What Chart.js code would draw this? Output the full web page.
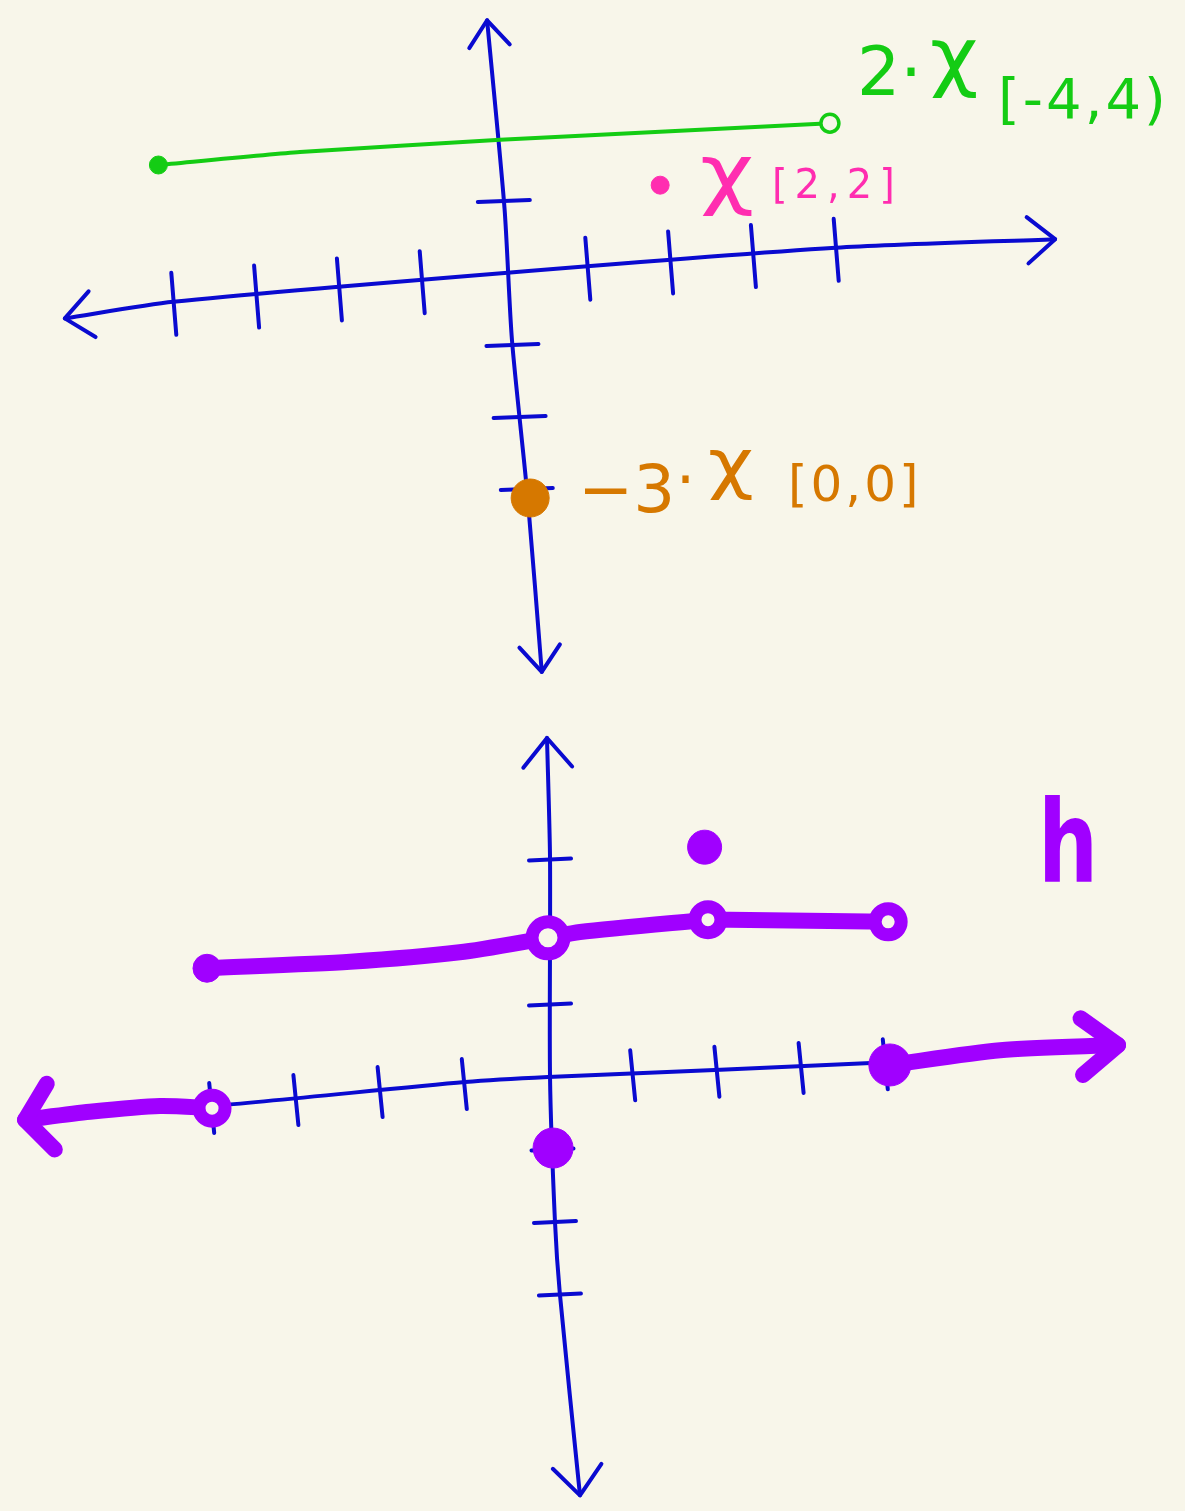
<!DOCTYPE html>
<html><head><meta charset="utf-8">
<script src="https://cdn.jsdelivr.net/npm/chart.js@4.4.1/dist/chart.umd.min.js"></script>
<style>html,body{margin:0;padding:0;background:#F8F6EA;}canvas{display:block}</style>
</head><body>
<canvas id="c" width="1185" height="1511" style="width:1185px;height:1511px"></canvas>
<script>
// ---------- data ----------
// Top plot: hand-drawn axes (slightly tilted) and the three indicator pieces
const topXAxisLine = [[-5.31,-0.63],[-4,-0.40],[0,0],[4,0.35],[6.65,0.47]];
const topYAxisLine = [[-0.21,3.51],[0.0,0.9],[0.09,-0.93],[0.28,-3.125],[0.45,-5.54]];
const topXTicks = [-4,-3,-2,-1,1,2,3,4];
const topYTicks = [1,-1,-2,-3];
const greenLine = [[-4.18,1.5],[-2.47,1.68],[-0.05,1.85],[3.93,2.08]];   // 2·χ[-4,4)
const pinkPoint = [[1.88,1.22]];                                          // χ[2,2]
const orangePoint = [[0.31,-3.125]];                                      // −3·χ[0,0]

// Bottom plot: h
const botXAxisLine = [[-6.27,-0.566],[-3.99,-0.40],[-0.986,-0.069],[0,0],[4.10,0.207],[6.56,0.414]];
const botYAxisLine = [[-0.012,4.676],[0.024,3.02],[0.024,0],[0.083,-2.0],[0.14,-2.98],[0.38,-5.77]];
const botXTicks = [-4,-3,-2,-1,1,2,3,4];
const botYTicks = [3,2,1,-1,-2,-3];
const hLeftRay  = [[-3.99,-0.43],[-4.61,-0.40],[-5.44,-0.48],[-6.21,-0.59]];
const hSeg1     = [[-4.05,1.5],[-2.35,1.59],[-1.05,1.72],[0,1.92]];
const hSeg2     = [[0,1.92],[0.38,2.0],[1.9,2.17]];
const hSeg3     = [[1.9,2.17],[2.16,2.17],[4.04,2.14]];
const hRightRay = [[4.06,0.166],[5.37,0.37],[6.77,0.44]];
const hFilled   = [[-4.05,1.5],[1.86,3.17],[0.06,-0.98],[4.06,0.166]];
const hOpen     = [[-3.99,-0.43],[0,1.92],[1.9,2.17],[4.04,2.14]];

// label texts
const greenLabel  = ['2·', 'χ', '[-4,4)'];
const pinkLabel   = ['χ', '[2,2]'];
const orangeLabel = ['−3', '·', 'χ', '[0,0]'];
const hLabel      = 'h';

// ---------- styles ----------
const BG='#F8F6EA', BLUE='#0A0AD0', GREEN='#14CC14', PINK='#FF2DB0', ORANGE='#D67800', PURPLE='#A000FF';
const pts = a => a.map(([x,y]) => ({x, y}));

function lineDs(data, color, width, xId, yId, extra) {
  return Object.assign({
    data: pts(data), xAxisID: xId, yAxisID: yId, showLine: true,
    borderColor: color, borderWidth: width, pointRadius: 0, pointHoverRadius: 0,
    borderCapStyle: 'round', borderJoinStyle: 'round', tension: 0.25, fill: false
  }, extra || {});
}

const datasets = [
  // axes
  lineDs(topXAxisLine, BLUE, 4, 'xT', 'yT', {order: 20, arrowAt: 'both', arrowLen: 36, arrowDeg: 40, ticksAxis: 'x', tickVals: topXTicks, tickHalf: 29}),
  lineDs(topYAxisLine, BLUE, 4, 'xT', 'yT', {order: 20, arrowAt: 'both', arrowLen: 33, arrowDeg: 38, ticksAxis: 'y', tickVals: topYTicks, tickHalf: 26}),
  lineDs(botXAxisLine, BLUE, 4, 'xB', 'yB', {order: 20, ticksAxis: 'x', tickVals: botXTicks, tickHalf: 23}),
  lineDs(botYAxisLine, BLUE, 4, 'xB', 'yB', {order: 20, arrowAt: 'both', arrowLen: 38, arrowDeg: 40, ticksAxis: 'y', tickVals: botYTicks, tickHalf: 21}),
  // top marks
  lineDs(greenLine, GREEN, 4, 'xT', 'yT', {order: 6, tension: 0.2}),
  {data: pts([greenLine[0], greenLine[greenLine.length-1]]), xAxisID: 'xT', yAxisID: 'yT', order: 1,
   pointRadius: [9, 9], pointBackgroundColor: [GREEN, BG], pointBorderColor: GREEN, pointBorderWidth: [1, 3.5]},
  {data: pts(pinkPoint), xAxisID: 'xT', yAxisID: 'yT', order: 1, pointRadius: 9, pointBackgroundColor: PINK, pointBorderColor: PINK},
  {data: pts(orangePoint), xAxisID: 'xT', yAxisID: 'yT', order: 1, pointRadius: 19, pointBackgroundColor: ORANGE, pointBorderColor: ORANGE},
  // bottom marks (h)
  lineDs(hLeftRay, PURPLE, 16, 'xB', 'yB', {order: 6, arrowAt: 'end', arrowLen: 42, arrowDeg: 52}),
  lineDs(hSeg1, PURPLE, 16, 'xB', 'yB', {order: 6}),
  lineDs(hSeg2, PURPLE, 16, 'xB', 'yB', {order: 6}),
  lineDs(hSeg3, PURPLE, 16, 'xB', 'yB', {order: 6}),
  lineDs(hRightRay, PURPLE, 16, 'xB', 'yB', {order: 6, arrowAt: 'end', arrowLen: 46, arrowDeg: 38}),
  {data: pts(hFilled), xAxisID: 'xB', yAxisID: 'yB', order: 1, pointRadius: [14, 17, 20, 21],
   pointBackgroundColor: PURPLE, pointBorderColor: PURPLE, pointBorderWidth: 1},
  {data: pts(hOpen), xAxisID: 'xB', yAxisID: 'yB', order: 1, pointRadius: [13, 16, 13, 13],
   pointBackgroundColor: BG, pointBorderColor: PURPLE, pointBorderWidth: 13}
];

// ---------- plugins ----------
function polyPoint(chart, idx, axis, value) {
  const meta = chart.getDatasetMeta(idx);
  const els = meta.data;
  if (axis === 'x') {
    const px = chart.scales[meta.xAxisID].getPixelForValue(value);
    for (let i = 0; i < els.length - 1; i++) {
      const a = els[i], b = els[i+1];
      const lo = Math.min(a.x, b.x), hi = Math.max(a.x, b.x);
      if (px >= lo && px <= hi) { const t = (px - a.x) / (b.x - a.x); return {x: px, y: a.y + t * (b.y - a.y)}; }
    }
  } else {
    const py = chart.scales[meta.yAxisID].getPixelForValue(value);
    for (let i = 0; i < els.length - 1; i++) {
      const a = els[i], b = els[i+1];
      const lo = Math.min(a.y, b.y), hi = Math.max(a.y, b.y);
      if (py >= lo && py <= hi) { const t = (py - a.y) / (b.y - a.y); return {x: a.x + t * (b.x - a.x), y: py}; }
    }
  }
  return null;
}

const handPlugin = {
  id: 'hand',
  beforeDatasetsDraw(chart) {
    const ctx = chart.ctx;
    chart.data.datasets.forEach((ds, i) => {
      if (!ds.ticksAxis) return;
      ctx.save();
      ctx.strokeStyle = ds.borderColor; ctx.lineWidth = 4; ctx.lineCap = 'round';
      ds.tickVals.forEach(v => {
        const p = polyPoint(chart, i, ds.ticksAxis, v);
        if (!p) return;
        ctx.beginPath();
        if (ds.ticksAxis === 'x') { ctx.moveTo(p.x - 2, p.y - ds.tickHalf); ctx.lineTo(p.x + 3, p.y + ds.tickHalf + 4); }
        else { ctx.moveTo(p.x - ds.tickHalf, p.y + 1); ctx.lineTo(p.x + ds.tickHalf, p.y - 1); }
        ctx.stroke();
      });
      ctx.restore();
    });
  },
  afterDatasetsDraw(chart) {
    const ctx = chart.ctx;
    chart.data.datasets.forEach((ds, i) => {
      if (!ds.arrowAt) return;
      const els = chart.getDatasetMeta(i).data;
      const n = els.length;
      const ends = [];
      if (ds.arrowAt === 'end' || ds.arrowAt === 'both') ends.push([els[n-1], els[n-2]]);
      if (ds.arrowAt === 'start' || ds.arrowAt === 'both') ends.push([els[0], els[1]]);
      ctx.save();
      ctx.strokeStyle = ds.borderColor; ctx.lineWidth = ds.borderWidth;
      ctx.lineCap = 'round'; ctx.lineJoin = 'round';
      ends.forEach(([tip, prev]) => {
        let dx = prev.x - tip.x, dy = prev.y - tip.y;
        const len = Math.hypot(dx, dy); dx /= len; dy /= len;
        const a = ds.arrowDeg * Math.PI / 180, L = ds.arrowLen;
        const r1 = {x: dx * Math.cos(a) - dy * Math.sin(a), y: dx * Math.sin(a) + dy * Math.cos(a)};
        const r2 = {x: dx * Math.cos(-a) - dy * Math.sin(-a), y: dx * Math.sin(-a) + dy * Math.cos(-a)};
        ctx.beginPath();
        ctx.moveTo(tip.x + r1.x * L, tip.y + r1.y * L);
        ctx.lineTo(tip.x, tip.y);
        ctx.lineTo(tip.x + r2.x * L, tip.y + r2.y * L);
        ctx.stroke();
      });
      ctx.restore();
    });
  },
  afterDraw(chart, args, opts) {
    const ctx = chart.ctx;
    opts.items.forEach(it => {
      ctx.save();
      ctx.fillStyle = it.color;
      ctx.font = (it.weight || 'normal') + ' ' + it.size + 'px "DejaVu Sans", sans-serif';
      ctx.textBaseline = 'alphabetic'; ctx.textAlign = 'left';
      if ('letterSpacing' in ctx) ctx.letterSpacing = (it.ls || 0) + 'px';
      ctx.translate(it.x, it.y);
      ctx.scale(it.sx || 1, 1);
      ctx.fillText(it.text, 0, 0);
      ctx.restore();
    });
  }
};

const labelItems = [
  {text: greenLabel[0], x: 857, y: 95, size: 68, color: GREEN},
  {text: greenLabel[1], x: 930, y: 82, size: 76, color: GREEN, sx: 1.1},
  {text: greenLabel[2], x: 998, y: 118, size: 56, color: GREEN, ls: 3},
  {text: pinkLabel[0], x: 700, y: 200, size: 78, color: PINK, sx: 1.2},
  {text: pinkLabel[1], x: 772, y: 198, size: 40, color: PINK, ls: 7},
  {text: orangeLabel[0], x: 578, y: 512, size: 66, color: ORANGE},
  {text: orangeLabel[1], x: 676, y: 500, size: 60, color: ORANGE},
  {text: orangeLabel[2], x: 708, y: 486, size: 66, color: ORANGE, sx: 1.2},
  {text: orangeLabel[3], x: 788, y: 501, size: 50, color: ORANGE, ls: 3},
  {text: hLabel, x: 1038, y: 882, size: 114, color: PURPLE, weight: 'bold', sx: 0.74}
];

new Chart(document.getElementById('c'), {
  type: 'scatter',
  data: {datasets},
  options: {
    responsive: false, animation: false, devicePixelRatio: 1,
    layout: {padding: 0, autoPadding: false},
    events: [],
    plugins: {legend: {display: false}, tooltip: {enabled: false}, hand: {items: labelItems}},
    scales: {
      xT: {type: 'linear', display: false, min: -504.5/82.8, max: (1185-504.5)/82.8},
      yT: {type: 'linear', display: false, min: -(1511-273)/72, max: 273/72},
      xB: {type: 'linear', display: false, min: -548/84.2, max: (1185-548)/84.2},
      yB: {type: 'linear', display: false, min: -(1511-1077)/72.5, max: 1077/72.5}
    }
  },
  plugins: [handPlugin]
});
</script>
</body></html>
